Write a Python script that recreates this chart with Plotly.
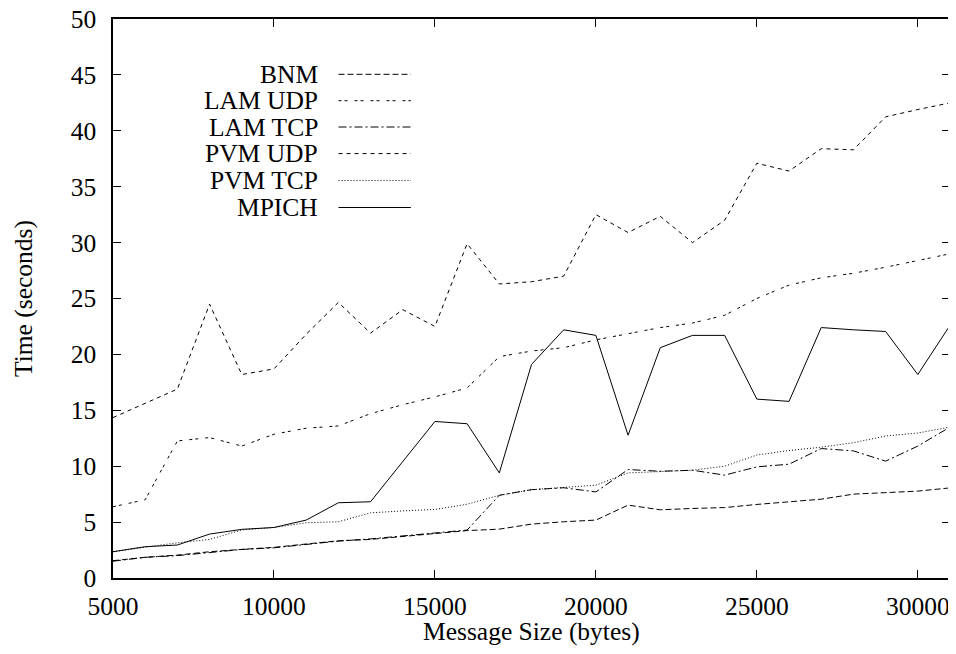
import plotly.graph_objects as go

msg_size = [5000, 6000, 7000, 8000, 9000, 10000, 11000, 12000, 13000, 14000,
            15000, 16000, 17000, 18000, 19000, 20000, 21000, 22000, 23000, 24000,
            25000, 26000, 27000, 28000, 29000, 30000, 31000]

bnm = [1.55, 1.85, 2.05, 2.35, 2.56, 2.74, 3.04, 3.33, 3.45, 3.7,
       3.99, 4.24, 4.37, 4.82, 5.03, 5.18, 6.52, 6.1, 6.22, 6.3,
       6.58, 6.82, 7.05, 7.5, 7.62, 7.77, 8.06]

lam_udp = [6.37, 7.0, 12.26, 12.56, 11.8, 12.86, 13.4, 13.6, 14.7, 15.5,
           16.2, 17.0, 19.8, 20.3, 20.6, 21.3, 21.85, 22.4, 22.8, 23.5,
           25.0, 26.2, 26.85, 27.26, 27.8, 28.4, 29.0]

lam_tcp = [1.5, 1.85, 2.0, 2.3, 2.55, 2.7, 3.0, 3.3, 3.5, 3.75,
           4.0, 4.29, 7.4, 7.9, 8.07, 7.7, 9.7, 9.55, 9.64, 9.2,
           9.94, 10.18, 11.58, 11.37, 10.45, 11.8, 13.5]

pvm_udp = [14.35, 15.6, 16.9, 24.5, 18.2, 18.7, 21.8, 24.65, 21.9, 24.0,
           22.5, 29.9, 26.3, 26.5, 27.0, 32.5, 30.9, 32.35, 30.0, 32.0,
           37.1, 36.4, 38.4, 38.3, 41.25, 41.9, 42.5]

pvm_tcp = [2.35, 2.75, 3.15, 3.45, 4.3, 4.52, 4.94, 5.03, 5.83, 6.0,
           6.13, 6.6, 7.4, 7.9, 8.07, 8.3, 9.4, 9.55, 9.64, 10.0,
           11.0, 11.4, 11.7, 12.1, 12.7, 12.97, 13.5]

mpich = [2.35, 2.8, 2.95, 3.93, 4.35, 4.52, 5.18, 6.73, 6.82, 10.4,
         14.0, 13.8, 9.4, 19.1, 22.2, 21.7, 12.77, 20.6, 21.7, 21.7,
         16.0, 15.8, 22.4, 22.2, 22.05, 18.2, 22.6]

series_names = ["BNM", "LAM UDP", "LAM TCP", "PVM UDP", "PVM TCP", "MPICH"]
series_values = [bnm, lam_udp, lam_tcp, pvm_udp, pvm_tcp, mpich]
dashes = ["6px,3px", "3px,3px,3px,7px", "8px,3px,2px,3px", "4px,4px", "1px,2px", "solid"]

FONT = "Liberation Serif, Times New Roman, serif"
FS = 25.5
OFF = 8  # page body margin offset in the browser
W, H = 956 - OFF, 654 - OFF
# target pixel positions in the final screenshot
L_S, R_S, T_S, B_S = 112.7, 950.0, 19.0, 578.0
L, R, T, B = L_S - OFF, R_S - OFF, T_S - OFF, B_S - OFF

fig = go.Figure()
for name, vals, d in zip(series_names, series_values, dashes):
    fig.add_trace(go.Scatter(x=msg_size, y=vals, mode="lines", name=name,
                             line=dict(color="black", width=1, dash=d),
                             showlegend=False))

# screenshot pixel -> paper coordinates
def px_to_paper(px, py):
    return (px - L_S) / (R_S - L_S), (B_S - py) / (B_S - T_S)

# gnuplot-style legend: label right-aligned, sample line to its right
legend_rows = [74.3, 100.7, 127.0, 153.6, 180.5, 207.5]
for name, d, ry in zip(series_names, dashes, legend_rows):
    tx, ty = px_to_paper(320, ry)
    fig.add_annotation(x=tx, y=ty, xref="paper", yref="paper", text=name,
                       showarrow=False, xanchor="right", yanchor="middle",
                       font=dict(family=FONT, size=FS, color="black"))
    x0, y0 = px_to_paper(338.3, ry)
    x1, _ = px_to_paper(410.7, ry)
    fig.add_shape(type="line", xref="paper", yref="paper", x0=x0, x1=x1, y0=y0, y1=y0,
                  line=dict(color="black", width=1, dash=d))

# x-axis title
_, ty = px_to_paper(0, 631)
fig.add_annotation(x=0.5, y=ty, xref="paper", yref="paper", text="Message Size (bytes)",
                   showarrow=False, xanchor="center", yanchor="middle",
                   font=dict(family=FONT, size=FS, color="black"))

fig.update_layout(
    width=W, height=H,
    margin=dict(l=L, r=W - R, t=T, b=H - B, pad=0, autoexpand=False),
    plot_bgcolor="white", paper_bgcolor="white",
    font=dict(family=FONT, size=FS, color="black"),
    xaxis=dict(range=[5000, 31000], tickvals=[5000, 10000, 15000, 20000, 25000, 30000],
               ticktext=["5000", "10000", "15000", "20000", "25000", "30000"],
               showgrid=False, zeroline=False, showline=True, linecolor="black", linewidth=1.5,
               mirror="ticks", ticks="inside", ticklen=8, tickwidth=1, tickcolor="black",
               automargin=False, ticklabelstandoff=5, ticklabeloverflow="allow",
               tickfont=dict(size=FS)),
    yaxis=dict(range=[0, 50], tickvals=list(range(0, 51, 5)),
               showgrid=False, zeroline=False, showline=True, linecolor="black", linewidth=1.5,
               mirror="ticks", ticks="inside", ticklen=8, tickwidth=1, tickcolor="black",
               automargin=False, ticklabelstandoff=10, ticklabeloverflow="allow",
               title=dict(text="Time (seconds)", standoff=31, font=dict(size=FS)),
               tickfont=dict(size=FS)),
)

fig.write_html("out.html")
